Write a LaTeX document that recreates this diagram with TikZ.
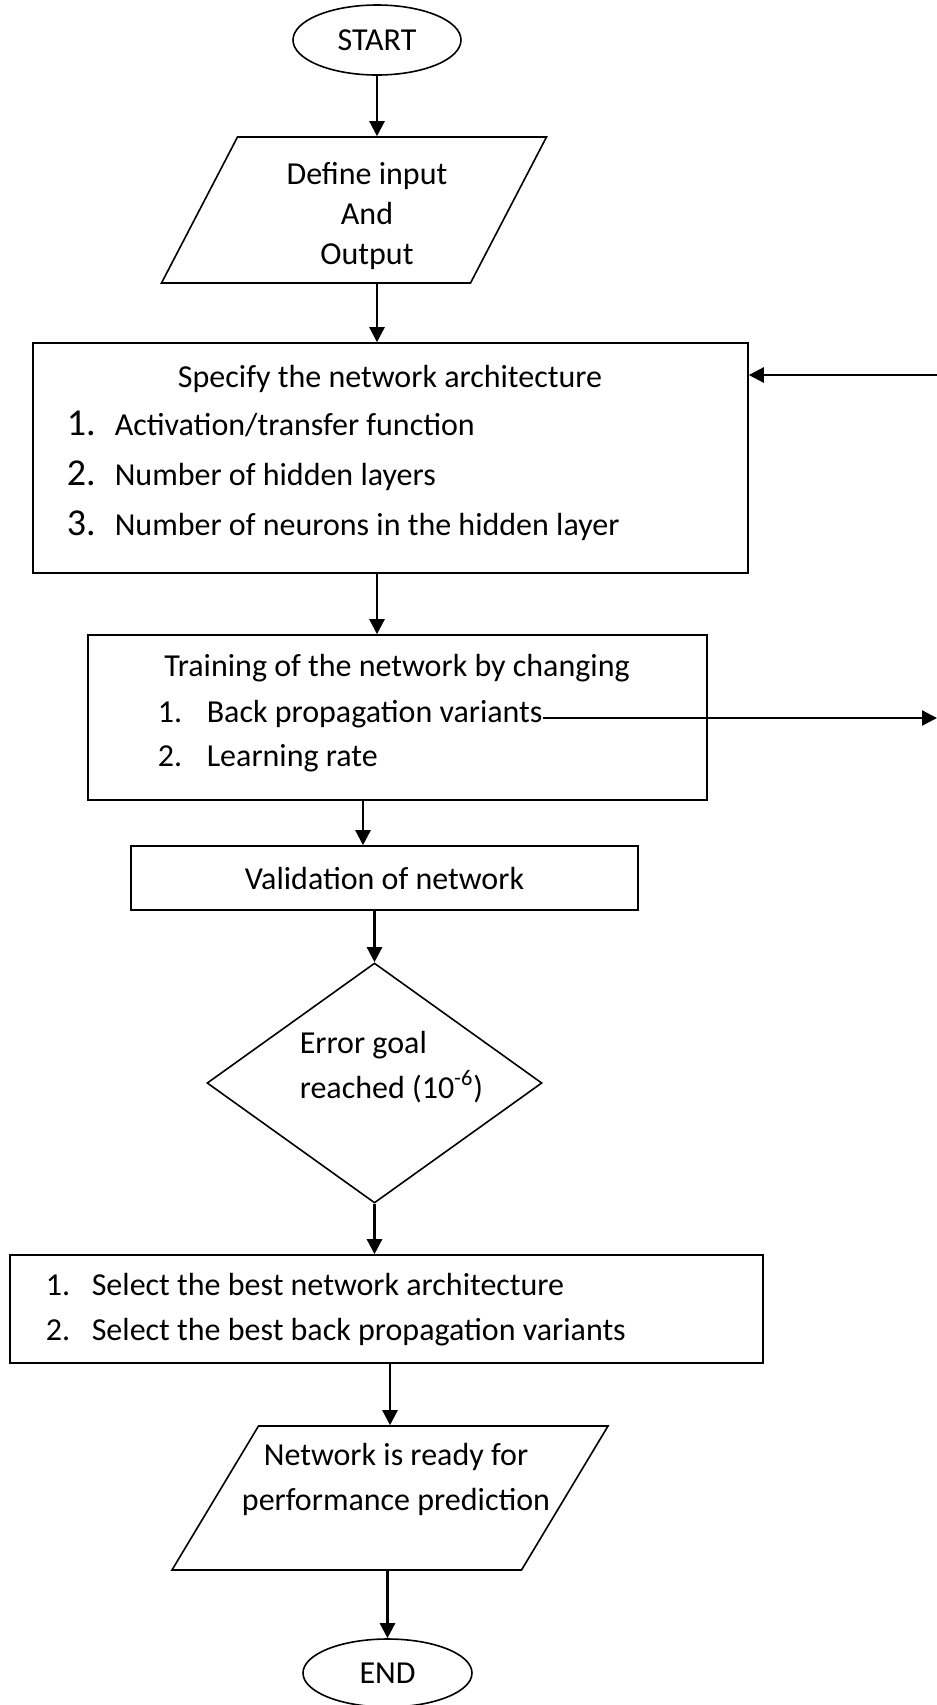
\documentclass[tikz,border=0pt]{standalone}
\usepackage{fontspec}
\setmainfont{Carlito}
\usetikzlibrary{shapes.geometric,arrows.meta}

\begin{document}
\begin{tikzpicture}[x=0.5pt,y=-0.5pt,line width=0.8pt,font=\fontsize{16}{20}\selectfont]
    \tikzstyle{flow}=[-{Triangle[length=7.5pt,width=7.5pt]},line width=1.2pt]
    \tikzstyle{terminal}=[ellipse,draw,minimum width=84pt,minimum height=35pt,inner sep=0pt]
    \tikzstyle{io}=[trapezium,draw]
    \tikzstyle{process}=[rectangle,draw,inner sep=0pt]
    \tikzstyle{decision}=[diamond,draw,inner sep=0pt]
    \tikzstyle{annot}=[inner sep=0pt,anchor=base west]
    \tikzstyle{title}=[inner sep=0pt,anchor=base]
    \tikzstyle{bignum}=[annot,font=\fontsize{19}{20}\selectfont]

    \useasboundingbox (0,0) rectangle (937,1705);

    % Draw the start and the input block
    \node[terminal] (start) at (377,40) {START};
    \node[io,trapezium left angle=62.5,trapezium right angle=117.5,
          inner xsep=58.25pt,inner ysep=36.5pt] (io1) at (354,210) {};
    \node[align=center,inner sep=0pt] (io1-t) at (367,216) {Define input\\And\\Output};

    % Draw the architecture block
    \node[process,minimum width=357.5pt,minimum height=115pt] (arch) at (390.5,458) {};
    \node[title] (arch-t) at (390,387) {Specify the network architecture};
    \foreach \n/\y/\txt in {1/435/{Activation/transfer function},
                            2/485/{Number of hidden layers},
                            3/535/{Number of neurons in the hidden layer}}
    {
        \node[bignum] (arch-n\n) at (66,\y) {\n.};
        \node[annot] (arch-\n) at (114,\y) {\txt};
    }

    % Draw the training block
    \node[process,minimum width=309.5pt,minimum height=82.5pt] (train) at (397.5,717.5) {};
    \node[title] (train-t) at (397,676) {Training of the network by changing};
    \foreach \n/\y/\txt in {1/722/{Back propagation variants},2/766/{Learning rate}}
    {
        \node[annot] (train-n\n) at (157,\y) {\n.};
        \node[annot] (train-\n) at (206,\y) {\txt};
    }

    % Validation and the decision
    \node[process,minimum width=253.5pt,minimum height=32pt] (val) at (384.5,878) {Validation of network};
    \node[decision,minimum width=167.5pt,minimum height=120pt] (goal) at (374.5,1083) {};
    \node[annot] (goal-1) at (299,1053) {Error goal};
    \node[annot] (goal-2) at (299,1098) {reached (10\textsuperscript{-6})};

    % Draw the selection block
    \node[process,minimum width=376.5pt,minimum height=54pt] (select) at (386.5,1309) {};
    \foreach \n/\y/\txt in {1/1295/{Select the best network architecture},
                            2/1340/{Select the best back propagation variants}}
    {
        \node[annot] (select-n\n) at (45,\y) {\n.};
        \node[annot] (select-\n) at (91,\y) {\txt};
    }

    % Draw the output block and the end
    \node[io,trapezium left angle=59,trapezium right angle=121,
          inner xsep=65.75pt,inner ysep=36pt] (io2) at (390,1498) {};
    \node[title] (io2-1) at (396,1465) {Network is ready for};
    \node[title] (io2-2) at (396,1510) {performance prediction};
    \node[terminal,minimum width=84.5pt,minimum height=34pt] (end) at (387.5,1673) {END};

    % Connect the blocks from top to bottom
    \draw[flow] (start) -- (start |- io1.north);
    \draw[flow] (start |- io1.south) -- (start |- arch.north);
    \draw[flow] (start |- arch.south) -- (start |- train.north);
    \draw[flow] ([xshift=-10.75pt]val.north |- train.south) -- ([xshift=-10.75pt]val.north);
    \draw[flow] (goal.north |- val.south) -- (goal.north);
    \draw[flow] (goal.south) -- (goal.south |- select.north);
    \draw[flow] (io2.north |- select.south) -- (io2.north);
    \draw[flow] (end |- io2.south) -- (end);

    % Arrows at the right edge
    \coordinate (fb-in) at (937,375);
    \coordinate (fb-out) at (937,718);
    \draw[flow] (fb-in) -- (fb-in -| arch.east);
    \draw[flow] (train-1.east |- fb-out) -- (fb-out);
\end{tikzpicture}
\end{document}
